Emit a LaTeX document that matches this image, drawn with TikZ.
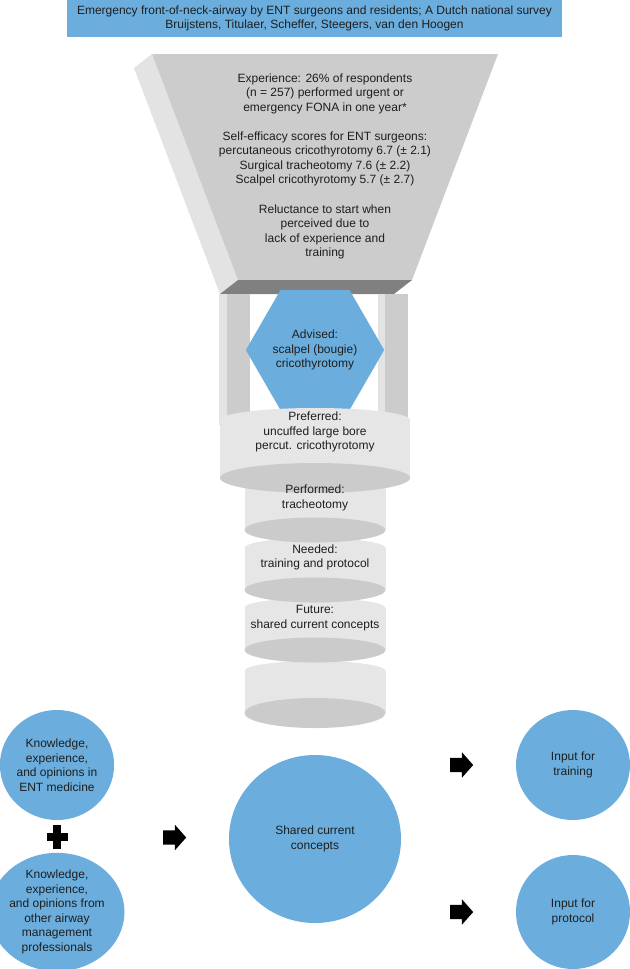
\documentclass[tikz,border=0pt]{standalone}
\usepackage{fontspec}
\setmainfont{Liberation Sans}
\usetikzlibrary{shapes.geometric,shapes.arrows}
\definecolor{blu}{RGB}{107,174,221}
\definecolor{frontc}{RGB}{204,204,204}
\definecolor{sidec}{RGB}{227,227,227}
\definecolor{barc}{RGB}{128,128,128}
\definecolor{cylc}{RGB}{230,230,230}
\definecolor{cyld}{RGB}{203,203,203}
\definecolor{textc}{RGB}{30,30,30}
\newcommand\mydisc[6]{%
  \fill[cylc] (#1,#3) ellipse [x radius=#2bp, y radius=#4bp];
  \fill[cylc] ({#1-#2},#3) rectangle ({#1+#2},#5);
  \fill[cyld] (#1,#5) ellipse [x radius=#2bp, y radius=#6bp];}
\begin{document}
\begin{tikzpicture}[x=1bp,y=-1bp,
  txt/.style={align=center, font=\fontsize{12bp}{14.5bp}\selectfont, text=textc, inner sep=0pt},
  titlebox/.style={txt, fill=blu, minimum width=495bp, minimum height=37bp},
  bubble/.style={txt, ellipse, fill=blu, minimum width=114bp, minimum height=110bp},
  hexa/.style={txt, regular polygon, regular polygon sides=6, fill=blu, minimum size=130bp},
  blockarrow/.style={single arrow, fill=black, inner xsep=0pt, inner ysep=7bp,
    single arrow head extend=5.5bp, single arrow tip angle=97, minimum height=23bp}]
\useasboundingbox (0,0) rectangle (630,969);
\fill[white] (0,0) rectangle (630,969);

% title
\node[titlebox] (title) at (314.5,18.5) {Emergency front-of-neck-airway by ENT surgeons and residents; A Dutch national survey\\Bruijstens, Titulaer, Scheffer, Steegers, van den Hoogen};

% funnel
\fill[sidec] (152,54) -- (134,68) -- (220,294) -- (238,280) -- cycle;
\fill[frontc] (152,54) -- (498,54) -- (412,280) -- (238,280) -- cycle;
\fill[barc] (238,280) -- (412,280) -- (394,294) -- (220,294) -- cycle;

% pillars
\fill[sidec] (219,294) rectangle (227,425);
\fill[frontc] (227,294) rectangle (250,425);
\fill[sidec] (378,294) rectangle (385,425);
\fill[frontc] (385,294) rectangle (408,425);

% hexagon
\node[hexa] (advised) at (315,350) {Advised:\\scalpel (bougie)\\cricothyrotomy};

% discs, bottom first
\mydisc{315}{70.5}{671}{10}{713}{15}
\mydisc{315}{70.5}{608}{10}{650}{12.5}
\mydisc{315}{70.5}{548}{10}{590}{12.5}
\mydisc{315}{70.5}{488}{10}{530}{12.5}
\mydisc{315}{95}{420}{12}{478}{15}

% funnel texts
\node[txt] (exp) at (325,93.5) {Experience: 26\% of respondents\\(n = 257) performed urgent or\\emergency FONA in one year*};
\node[txt] (selfeff) at (325,159) {Self-efficacy scores for ENT surgeons:\\percutaneous cricothyrotomy 6.7 (± 2.1)\\Surgical tracheotomy 7.6 (± 2.2)\\Scalpel cricothyrotomy 5.7 (± 2.7)};
\node[txt] (reluct) at (325,232) {Reluctance to start when\\perceived due to\\lack of experience and\\training};

% disc texts
\node[txt] (preferred) at (315,432) {Preferred:\\uncuffed large bore\\percut. cricothyrotomy};
\node[txt] (performed) at (315,498) {Performed:\\tracheotomy};
\node[txt] (needed) at (315,557.5) {Needed:\\training and protocol};
\node[txt] (future) at (315,618) {Future:\\shared current concepts};

% bottom bubbles
\node[bubble] (ent) at (57,765) {Knowledge,\\experience,\\and opinions in\\ENT medicine};
\node[bubble, minimum height=114bp] (other) at (57,912) {Knowledge,\\experience,\\and opinions from\\other airway\\management\\professionals};
\node[bubble, minimum width=172bp, minimum height=168bp] (shared) at (315,839) {Shared current\\concepts};
\node[bubble] (training) at (573,765) {Input for\\training};
\node[bubble, minimum height=114bp] (protocol) at (573,912) {Input for\\protocol};

% plus sign
\fill[black] (47,833) rectangle (68,841);
\fill[black] (53,825) rectangle (61,849);

% block arrows
\node[blockarrow] (arr1) at (171.5,837.5) {};
\node[blockarrow] (arr2) at (458.5,765) {};
\node[blockarrow] (arr3) at (458.5,912) {};
\end{tikzpicture}
\end{document}
